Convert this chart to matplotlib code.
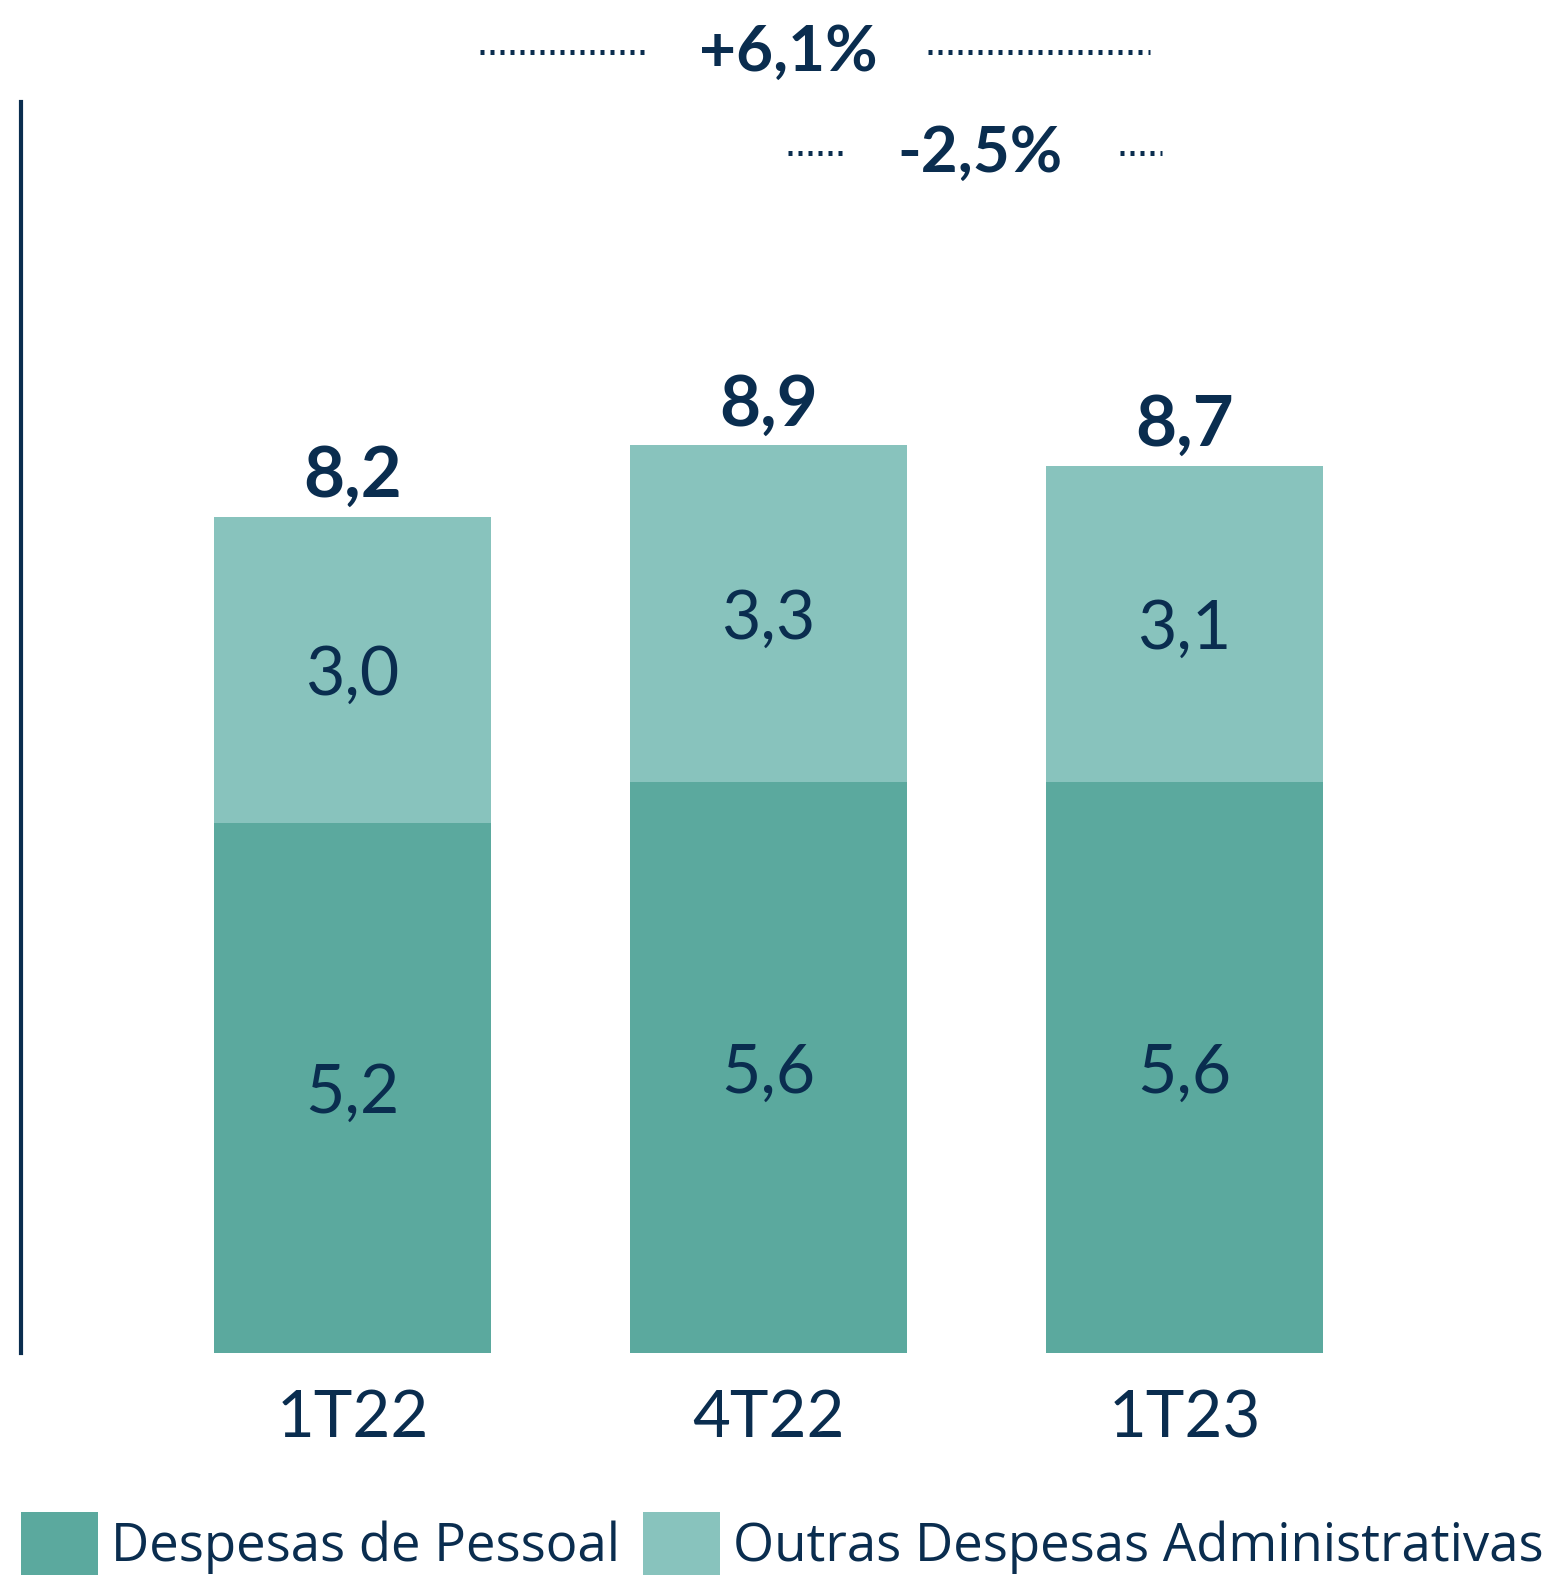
import matplotlib
matplotlib.use("Agg")
import matplotlib.pyplot as plt

categories = ["1T22", "4T22", "1T23"]
pessoal = [5.2, 5.6, 5.6]
outras = [3.0, 3.3, 3.1]
totais = [8.2, 8.9, 8.7]
pessoal_labels = ["5,2", "5,6", "5,6"]
outras_labels = ["3,0", "3,3", "3,1"]
total_labels = ["8,2", "8,9", "8,7"]
series_names = ["Despesas de Pessoal", "Outras Despesas Administrativas"]
var_labels = ["+6,1%", "-2,5%"]

NAVY = "#0A2D4F"
DARK = "#5BA99E"
LIGHT = "#88C3BD"
FONT = ["Lato", "DejaVu Sans"]
LEG_FONT = ["Liberation Sans Narrow", "Open Sans", "DejaVu Sans"]

W, H = 1548, 1582
fig = plt.figure(figsize=(W / 100, H / 100), dpi=100)
ax = fig.add_axes([21 / W, 1 - 1353 / H, 1 - 21 / W, (1353 - 102) / H])

x = list(range(len(categories)))
bw = 277 / 416
b1 = ax.bar(x, pessoal, width=bw, color=DARK, label=series_names[0])
b2 = ax.bar(x, outras, width=bw, bottom=pessoal, color=LIGHT, label=series_names[1])

ax.set_xlim(-331.5 / 416, (W - 352.5) / 416)
ax.set_ylim(0, (1353 - 102) / 102)

for s in ["top", "right", "bottom"]:
    ax.spines[s].set_visible(False)
ax.spines["left"].set_color(NAVY)
ax.spines["left"].set_linewidth(3)
ax.set_yticks([])
ax.set_xticks(x)
ax.set_xticklabels(categories, fontsize=47, color=NAVY, family=FONT)
ax.tick_params(axis="x", length=0, pad=26)

for i in x:
    ax.annotate(pessoal_labels[i], xy=(i, pessoal[i] / 2), xytext=(0, -18),
                textcoords="offset points", ha="center", va="baseline",
                fontsize=49, color=NAVY, family=FONT)
    ax.annotate(outras_labels[i], xy=(i, pessoal[i] + outras[i] / 2), xytext=(0, -18),
                textcoords="offset points", ha="center", va="baseline",
                fontsize=49, color=NAVY, family=FONT)
    ax.annotate(total_labels[i], xy=(i, totais[i]), xytext=(0, 14),
                textcoords="offset points", ha="center", va="baseline",
                fontsize=51, color=NAVY, family=FONT, fontweight="bold")

def px_x(p):
    return (p - 352.5) / 416

def px_y(p):
    return (1353 - p) / 102

dot_style = dict(color=NAVY, lw=3.6, linestyle=(0, (0.8, 1.2)), solid_capstyle="butt",
                 dash_capstyle="butt", clip_on=False)
y1 = px_y(52)
ax.plot([px_x(480), px_x(650)], [y1, y1], **dot_style)
ax.plot([px_x(928), px_x(1150)], [y1, y1], **dot_style)
ax.text(px_x(788), y1, var_labels[0], ha="center", va="center", fontsize=46,
        fontweight="bold", color=NAVY, family=FONT, clip_on=False)
y2 = px_y(153)
ax.plot([px_x(788), px_x(842)], [y2, y2], **dot_style)
ax.plot([px_x(1120), px_x(1162)], [y2, y2], **dot_style)
ax.text(px_x(980), y2, var_labels[1], ha="center", va="center", fontsize=46,
        fontweight="bold", color=NAVY, family=FONT, clip_on=False)

leg = fig.legend(handles=[b1, b2], labels=series_names, loc="upper left",
                 bbox_to_anchor=(21 / W, 1 - 1512 / H), ncol=2, frameon=False,
                 borderpad=0, borderaxespad=0, handlelength=1.45, handleheight=1.45,
                 handletextpad=0.25, columnspacing=0.45,
                 prop=dict(family=LEG_FONT, size=38))
for t in leg.get_texts():
    t.set_color(NAVY)

fig.savefig("out.png", dpi=100)
